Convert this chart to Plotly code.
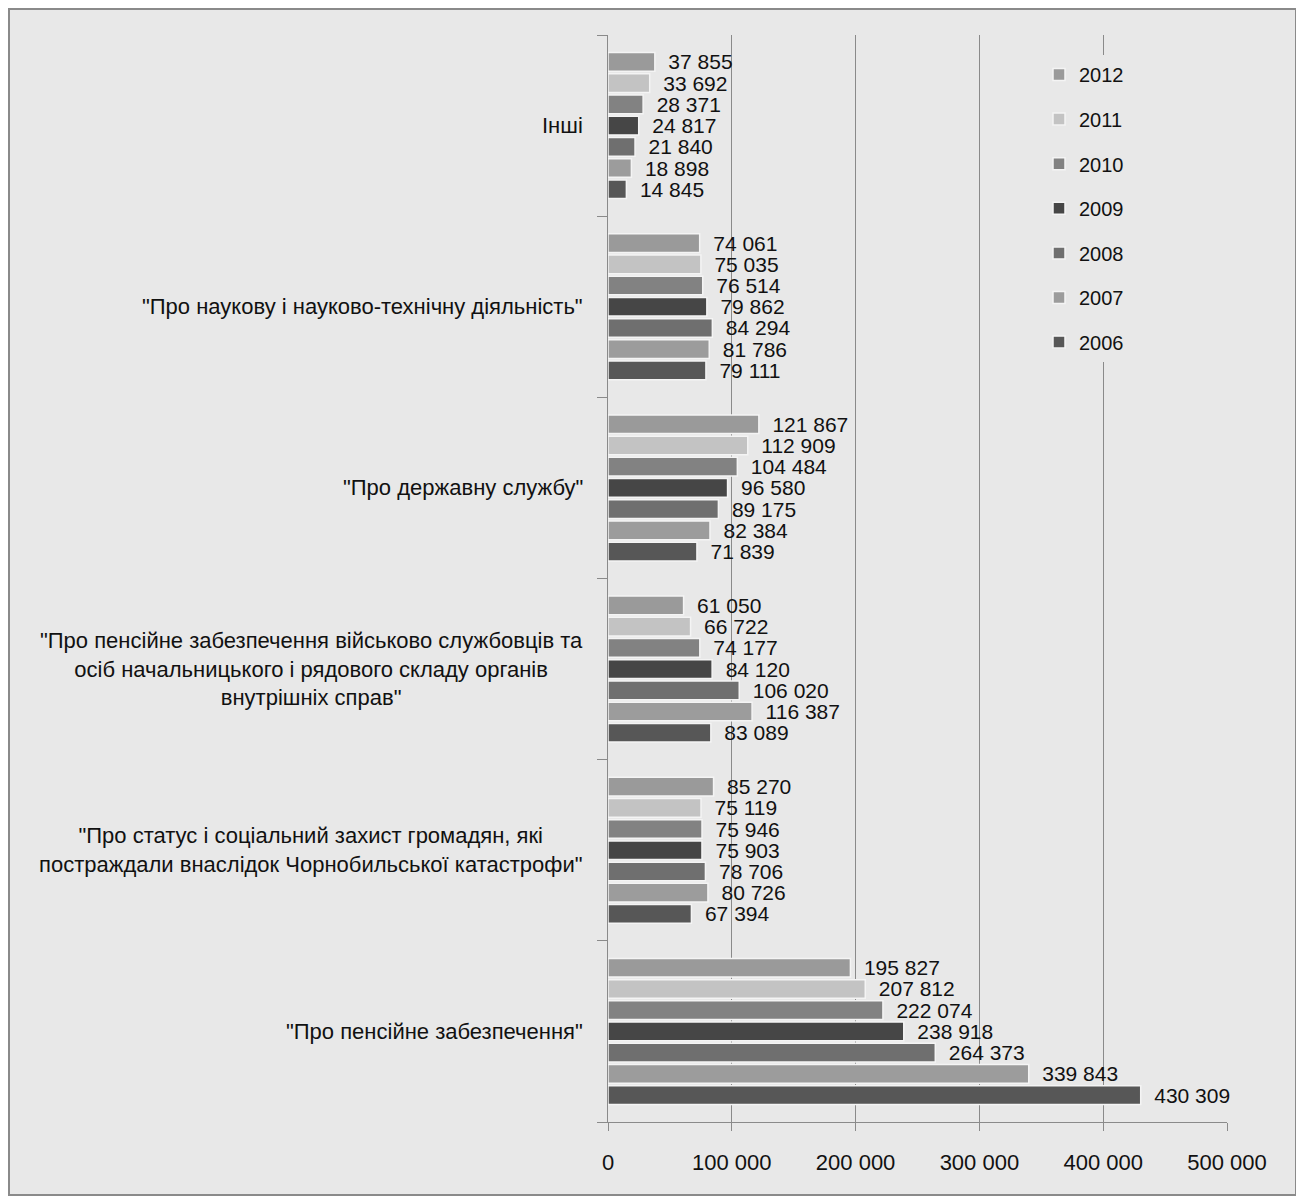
import plotly.graph_objects as go

categories = [
    '"Про пенсійне забезпечення"',
    '"Про статус і соціальний захист громадян, які<br>постраждали внаслідок Чорнобильської катастрофи"',
    '"Про пенсійне забезпечення військово службовців та<br>осіб начальницького і рядового складу органів<br>внутрішніх справ"',
    '"Про державну службу"',
    '"Про наукову і науково-технічну діяльність"',
    'Інші',
]
years = ['2006', '2007', '2008', '2009', '2010', '2011', '2012']
v2006 = [430309, 67394, 83089, 71839, 79111, 14845]
v2007 = [339843, 80726, 116387, 82384, 81786, 18898]
v2008 = [264373, 78706, 106020, 89175, 84294, 21840]
v2009 = [238918, 75903, 84120, 96580, 79862, 24817]
v2010 = [222074, 75946, 74177, 104484, 76514, 28371]
v2011 = [207812, 75119, 66722, 112909, 75035, 33692]
v2012 = [195827, 85270, 61050, 121867, 74061, 37855]
series = [v2006, v2007, v2008, v2009, v2010, v2011, v2012]
tick_vals = [0, 100000, 200000, 300000, 400000, 500000]

colors = ['#575757', '#9c9c9c', '#6f6f6f', '#464646', '#828282', '#c3c3c3', '#9a9a9a']

fig = go.Figure()
n = len(years)
for i, (yr, vals, col) in enumerate(zip(years, series, colors)):
    fig.add_trace(go.Bar(
        y=categories, x=vals, name=yr, orientation='h',
        marker=dict(color=col, line=dict(color='#f4f4f4', width=1.5)),
        texttemplate='\u2002%{x:,}', textposition='outside', constraintext='none',
        textfont=dict(family='Liberation Sans', size=21, color='#111111'),
        cliponaxis=False, legendgroup=yr, legendrank=n - i,
    ))

# page body has an 8px margin; work in reference pixel coordinates
OFF = 8
W, H = 1304 - OFF, 1199 - OFF
L = 608 - OFF
T = 35 - OFF
R = W - (1227 - OFF)
B = H - (1122 - OFF)
pw, ph = W - L - R, H - T - B

def px_x(p):
    return (p - OFF - L) / pw

def px_y(p):
    return (H - B - (p - OFF)) / ph

annotations = []
for c in categories:
    annotations.append(dict(
        x=px_x(585), xref='paper', y=c, yref='y', text=c, showarrow=False,
        xanchor='right', yanchor='middle', align='center',
        font=dict(family='Liberation Sans', size=22, color='#111111'),
    ))

fig.update_layout(
    width=W, height=H,
    margin=dict(l=L, r=R, t=T, b=B),
    paper_bgcolor='white', plot_bgcolor='rgba(0,0,0,0)',
    separators='. ',
    barmode='group', bargap=0.18, bargroupgap=0.12,
    font=dict(family='Liberation Sans', size=19, color='#111111'),
    showlegend=True,
    legend=dict(
        traceorder='grouped', tracegroupgap=15.6,
        x=px_x(1039), xanchor='left', y=px_y(55), yanchor='top',
        bgcolor='#e8e8e8', font=dict(size=20, color='#111111'),
    ),
    annotations=annotations,
    shapes=[dict(
        type='rect', xref='paper', yref='paper', layer='below',
        x0=px_x(9), x1=px_x(1296), y0=px_y(1195), y1=px_y(9),
        fillcolor='#e8e8e8', line=dict(color='#8a8a8a', width=2),
    )],
    xaxis=dict(
        range=[0, 500000], tickvals=tick_vals, tickformat=',',
        showgrid=True, gridcolor='#8a8a8a', gridwidth=1,
        zeroline=False, showline=True, linecolor='#8a8a8a', linewidth=1,
        ticks='outside', ticklen=8, tickcolor='#8a8a8a',
        ticklabelstandoff=13,
        tickfont=dict(family='Liberation Sans', size=22, color='#111111'),
    ),
    yaxis=dict(
        showgrid=False, zeroline=False, showline=True, linecolor='#8a8a8a', linewidth=1,
        ticks='outside', ticklen=10, tickcolor='#8a8a8a', tickson='boundaries',
        showticklabels=False,
    ),
)

fig.write_html('out.html')
